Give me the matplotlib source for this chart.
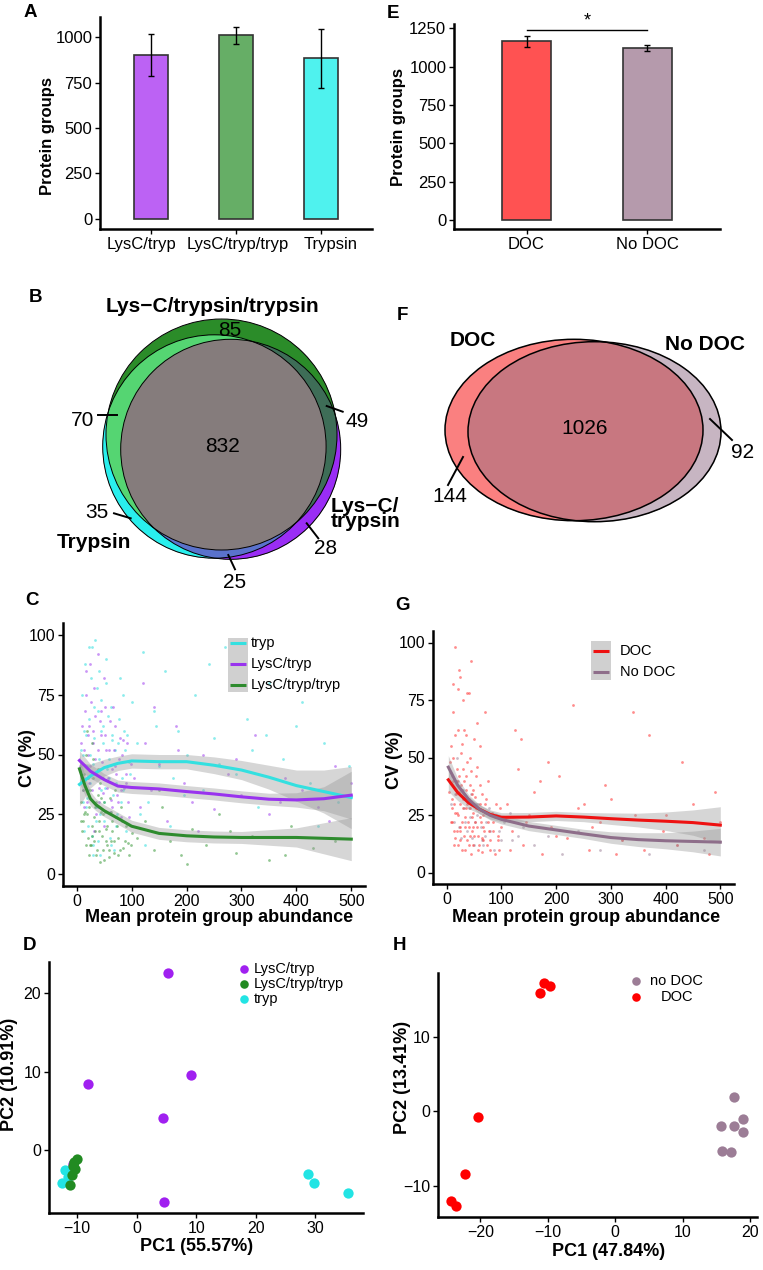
import numpy as np
import matplotlib
matplotlib.use("Agg")
import matplotlib.pyplot as plt
import matplotlib.transforms as mtrans
from matplotlib.colors import to_rgba
from matplotlib.patches import Circle, Ellipse, Rectangle

plt.rcParams['font.family'] = ['Liberation Sans', 'DejaVu Sans']

# ---- data ----
# A: protein groups per digestion
digest = ['LysC/tryp', 'LysC/tryp/tryp', 'Trypsin']
digest_mean = [900, 1010, 883]
digest_err = [116, 47, 161]
digest_col = ['#BC62F4', '#66AE66', '#4FF2EE']

# E: protein groups with / without DOC
doc_groups = ['DOC', 'No DOC']
doc_mean = [1166, 1120]
doc_err = [35, 20]
doc_col = ['#FF5252', '#B59AAC']

# B: 3-way venn counts
venn3_names = ['Lys\u2212C/trypsin/trypsin', 'Lys\u2212C/\ntrypsin', 'Trypsin']
venn3_counts = {'g': 85, 'gc': 70, 'gp': 49, 'c': 35, 'p': 28, 'cp': 25, 'gcp': 832}

# F: 2-way venn counts
venn2_names = ['DOC', 'No DOC']
venn2_counts = {'d': 144, 'dn': 1026, 'n': 92}

# C: CV scatter (estimated sample of points) + smooth fits
c_tryp_x = [8, 12, 15, 18, 20, 22, 25, 27, 30, 32, 35, 37, 40, 42, 45, 48, 50, 53, 56, 60, 63, 66, 70, 74, 78, 82, 86, 90, 95, 100,
            10, 14, 19, 24, 28, 33, 38, 43, 47, 52, 58, 64, 68, 72, 80, 88, 97,
            9, 13, 17, 21, 26, 29, 34, 39, 44, 49, 54, 59, 65, 71, 77, 84, 91, 16, 23, 31, 36, 41, 46, 57, 62, 75, 85, 11, 29, 44,
            110, 120, 130, 140, 150, 160, 170, 185, 200, 215, 230, 250, 270, 290, 310, 330, 350, 375, 400, 425, 450, 475, 495,
            125, 175, 240, 320, 410, 115, 145, 195, 260, 345, 440]
c_tryp_y = [52, 30, 88, 45, 20, 65, 38, 95, 12, 57, 28, 78, 48, 8, 35, 62, 22, 90, 44, 15, 70, 33, 52, 25, 82, 40, 60, 18, 47, 72,
            40, 60, 32, 50, 16, 42, 68, 25, 55, 36, 48, 58, 10, 38, 30, 52, 42,
            75, 18, 58, 35, 82, 46, 98, 14, 73, 30, 80, 40, 56, 20, 65, 35, 58, 28, 95, 70, 22, 85, 40, 66, 12, 55, 75, 50, 8, 60,
            55, 93, 30, 68, 45, 85, 20, 60, 50, 75, 35, 57, 95, 42, 65, 28, 80, 48, 62, 38, 55, 30, 45,
            12, 40, 88, 52, 72, 25, 62, 33, 46, 58, 20]
c_lysc_x = [6, 10, 13, 17, 20, 23, 26, 29, 31, 34, 36, 39, 41, 44, 46, 49, 52, 55, 58, 61, 65, 69, 73, 77, 81, 85, 90, 94, 98,
            11, 16, 21, 27, 33, 38, 43, 48, 54, 62, 70, 78, 87, 96,
            8, 12, 15, 19, 22, 25, 28, 32, 35, 38, 42, 45, 48, 51, 57, 60, 64, 68, 72, 76, 83, 89, 14, 24, 30, 40, 50, 66, 80, 92,
            105, 115, 125, 135, 150, 165, 180, 195, 210, 230, 250, 275, 300, 325, 350, 380, 410, 440, 470, 500,
            140, 220, 290, 370, 460, 120, 185]
c_lysc_y = [45, 62, 28, 85, 50, 38, 72, 55, 18, 66, 42, 92, 30, 58, 47, 20, 70, 36, 52, 26, 44, 62, 33, 48, 24, 56, 38, 30, 46,
            35, 75, 58, 42, 48, 28, 64, 40, 52, 31, 45, 57, 36, 24,
            55, 40, 68, 30, 62, 45, 35, 78, 25, 52, 44, 68, 34, 58, 40, 64, 28, 52, 42, 30, 50, 42, 52, 88, 60, 36, 82, 70, 35, 55,
            40, 28, 55, 35, 46, 22, 62, 38, 30, 50, 27, 42, 33, 58, 25, 40, 35, 28, 45, 38,
            70, 18, 48, 30, 22, 80, 52]
c_lysc2_x = [7, 10, 13, 16, 19, 22, 25, 28, 31, 34, 37, 40, 43, 46, 49, 52, 56, 60, 64, 68, 72, 76, 80, 85, 90, 95, 100,
             12, 18, 24, 30, 36, 42, 48, 54, 62, 70, 82, 94, 15, 27, 39, 58,
             8, 11, 14, 17, 20, 23, 26, 29, 32, 35, 38, 41, 44, 47, 50, 55, 59, 63, 67, 74, 78, 88, 21, 33, 45, 53, 65, 75, 98, 28,
             110, 125, 140, 155, 170, 190, 210, 235, 260, 290, 320, 350, 390, 430, 470, 150, 200, 280, 380]
c_lysc2_y = [30, 18, 42, 12, 25, 8, 35, 20, 14, 28, 10, 22, 38, 16, 6, 26, 12, 32, 18, 9, 24, 15, 28, 11, 20, 8, 17,
             22, 60, 12, 48, 30, 5, 25, 19, 14, 35, 22, 13, 26, 16, 44, 10,
             22, 35, 25, 50, 15, 28, 12, 40, 24, 8, 33, 18, 26, 10, 30, 20, 7, 26, 14, 20, 10, 14, 40, 18, 32, 14, 22, 8, 12, 55,
             15, 22, 10, 28, 14, 8, 19, 12, 25, 9, 16, 6, 20, 11, 14, 35, 4, 18, 8]

fit_x = [5, 25, 50, 75, 100, 150, 200, 250, 300, 350, 400, 450, 500]
fit_tryp = [37.5, 41, 44.5, 46.3, 47.3, 47, 47, 45.5, 43.5, 40.5, 37, 34.5, 32]
se_tryp = [9, 5, 3.5, 3, 3, 3, 3, 3.5, 4, 5, 6.5, 9, 13]
fit_lysc = [47.5, 43, 39.5, 36.8, 36.2, 35.6, 34.5, 33.5, 32.3, 31.3, 31, 31.5, 33]
se_lysc = [4, 3, 2.5, 2.5, 2.5, 2.5, 2.5, 2.5, 2.5, 2.5, 3, 5, 10]
fit_x2 = [5, 15, 25, 35, 50, 75, 100, 150, 200, 250, 300, 400, 500]
fit_lysc2 = [44, 37, 31.5, 29, 26.5, 23.3, 20, 17, 16, 15.5, 15.3, 15.3, 14.6]
se_lysc2 = [6, 4, 3, 2.5, 2.5, 2.5, 2.5, 2.5, 2.5, 2.5, 2.5, 4, 9]

# G: CV scatter DOC / No DOC
g_doc_x = [5, 8, 10, 12, 14, 16, 18, 20, 22, 24, 26, 28, 30, 32, 34, 36, 38, 40, 42, 44, 46, 48, 50, 53, 56, 59, 62, 65, 68, 72, 76, 80, 85, 90, 95, 100,
           6, 9, 11, 13, 15, 17, 19, 21, 23, 25, 27, 29, 31, 33, 35, 37, 39, 41, 43, 45, 47, 49, 52, 55, 58, 61, 64, 67, 70, 74, 78, 83, 88, 93, 98,
           7, 10, 13, 16, 19, 22, 25, 28, 31, 34, 37, 40, 43, 46, 49, 52, 55, 58, 61, 64, 67, 71, 75, 79, 84, 89, 94,
           12, 18, 24, 30, 36, 42, 48, 54, 60, 66, 20, 28, 38,
           15, 25, 30, 40, 45, 55, 20, 35, 60, 70, 12, 50,
           110, 120, 130, 140, 150, 160, 175, 190, 205, 220, 240, 260, 280, 300, 320, 345, 370, 395, 420, 450, 480, 500,
           135, 185, 230, 290, 360, 430, 115, 145, 170, 200, 250, 310, 400, 470, 125, 265, 340, 490]
g_doc_y = [35, 55, 22, 70, 30, 15, 45, 25, 88, 18, 38, 10, 28, 62, 20, 42, 14, 32, 50, 8, 24, 36, 16, 28, 46, 12, 22, 34, 18, 26, 40, 14, 22, 30, 10, 20,
           48, 28, 40, 18, 60, 34, 26, 12, 42, 20, 52, 32, 16, 24, 36, 78, 22, 12, 28, 44, 18, 26, 33, 20, 10, 38, 15, 25, 30, 12, 18, 26, 8, 16, 28,
           22, 32, 12, 26, 18, 35, 14, 22, 40, 10, 30, 20, 16, 34, 12, 22, 28, 16, 24, 9, 20, 32, 22, 10, 18, 24, 14,
           50, 40, 30, 45, 28, 38, 20, 42, 30, 14, 62, 56, 48,
           98, 85, 75, 78, 92, 65, 80, 60, 55, 70, 82, 58,
           30, 18, 45, 12, 25, 35, 8, 20, 42, 15, 28, 10, 22, 32, 14, 25, 60, 18, 12, 30, 8, 22,
           58, 48, 73, 38, 10, 48, 10, 22, 40, 16, 30, 8, 25, 15, 62, 20, 70, 35]
g_nodoc_x = [8, 14, 20, 26, 32, 38, 44, 50, 56, 62, 70, 78, 86, 95, 105, 120, 140, 160, 185, 210, 240, 280, 320, 370, 420, 470,
             18, 30, 42, 54, 66, 90, 130, 10, 16, 22, 28, 34, 40, 46, 52, 58, 64, 72, 80, 100, 115]
g_nodoc_y = [30, 22, 40, 15, 28, 18, 34, 12, 25, 20, 16, 28, 10, 18, 22, 14, 20, 12, 16, 8, 18, 10, 14, 8, 12, 10,
             50, 36, 24, 30, 12, 25, 16, 42, 34, 20, 36, 22, 28, 15, 22, 30, 14, 22, 18, 14, 26]

fit_gx = [3, 20, 40, 60, 80, 100, 150, 200, 250, 300, 350, 400, 450, 500]
fit_doc = [40.3, 34.8, 30.3, 27.5, 25.2, 24, 24.1, 24.6, 24.1, 23.4, 22.8, 22.3, 21.7, 20.6]
se_doc = [5, 3.5, 2.5, 2, 2, 2, 2, 2, 2, 2.5, 3, 4, 5.5, 8]
fit_nodoc = [45.8, 38, 31.8, 27.5, 24.8, 23.1, 20.2, 18.5, 16.8, 15.2, 14.3, 13.8, 13.5, 13.2]
se_nodoc = [5, 3, 2, 2, 2, 2, 2, 2, 2, 2.5, 3, 3.5, 4.5, 6]

# D: PCA digestion
d_lysc_pc1 = [5.2, -8.1, 9.1, 4.5, 4.6, -10.6]
d_lysc_pc2 = [22.6, 8.4, 9.6, 4.1, -6.7, -1.8]
d_lysc2_pc1 = [-10.0, -10.6, -10.4, -10.9, -11.2, -10.5]
d_lysc2_pc2 = [-1.1, -2.1, -2.4, -3.2, -4.5, -1.5]
d_tryp_pc1 = [-12.0, -12.6, 28.8, 29.7, 35.5, -11.5]
d_tryp_pc2 = [-2.6, -4.2, -3.1, -4.2, -5.5, -3.5]

# H: PCA DOC
h_doc_pc1 = [-10.5, -9.7, -11.1, -20.4, -22.3, -24.3, -23.6]
h_doc_pc2 = [17.2, 16.8, 15.8, -0.8, -8.3, -12.0, -12.6]
h_nodoc_pc1 = [17.7, 15.7, 17.7, 19.0, 19.0, 15.9, 17.2]
h_nodoc_pc2 = [1.9, -1.9, -1.9, -1.0, -2.7, -5.3, -5.4]

# ---- layout helpers (pixel based) ----
W, H = 763, 1270
fig = plt.figure(figsize=(W / 100, H / 100), dpi=100)


def box(x0, y0, x1, y1):
    return [x0 / W, 1 - y1 / H, (x1 - x0) / W, (y1 - y0) / H]


def style(ax, size=11.5):
    for s in ['top', 'right']:
        ax.spines[s].set_visible(False)
    for s in ['left', 'bottom']:
        ax.spines[s].set_linewidth(1.8)
    ax.tick_params(direction='out', length=3.5, width=1, labelsize=size, pad=2)


def letter(x, y, s):
    fig.text(x / W, 1 - y / H, s, fontsize=13.5, fontweight='bold', ha='center', va='center')


# ---- A ----
ax = fig.add_axes(box(100, 17, 372, 229))
pos = np.arange(len(digest))
ax.bar(pos, digest_mean, width=0.41, color=digest_col, edgecolor='#333333', linewidth=1.2, zorder=2)
ax.errorbar(pos, digest_mean, yerr=digest_err, fmt='none', ecolor='black', elinewidth=1, capsize=2.5, capthick=1, zorder=3)
ax.set_xlim(-0.6, 2.6)
ax.set_ylim(-55, 1110)
ax.set_yticks([0, 250, 500, 750, 1000])
ax.set_xticks(pos, digest)
style(ax, 12)
# labels sit a little apart in the reference
for lab, dx in zip(ax.get_xticklabels(), [-9.5, 1.5, 10]):
    lab.set_transform(lab.get_transform() + mtrans.ScaledTranslation(dx / 100, 0, fig.dpi_scale_trans))
ax.set_ylabel('Protein groups', fontsize=12, fontweight='bold')
ax.yaxis.set_label_coords(-0.165, 0.44)

# ---- E ----
ax = fig.add_axes(box(454, 24, 720, 229))
pos = np.arange(len(doc_groups))
ax.bar(pos, doc_mean, width=0.41, color=doc_col, edgecolor='#333333', linewidth=1.2, zorder=2)
ax.errorbar(pos, doc_mean, yerr=doc_err, fmt='none', ecolor='black', elinewidth=1, capsize=2.5, capthick=1, zorder=3)
ax.plot([0, 1], [1240, 1240], color='black', lw=1)
ax.text(0.5, 1242, '*', ha='center', va='bottom', fontsize=13)
ax.set_xlim(-0.6, 1.6)
ax.set_ylim(-59, 1278)
ax.set_yticks([0, 250, 500, 750, 1000, 1250])
ax.set_xticks(pos, doc_groups)
style(ax, 12)
ax.set_ylabel('Protein groups', fontsize=12, fontweight='bold')
ax.yaxis.set_label_coords(-0.18, 0.5)

# ---- Venn diagrams (B, F) in pixel coordinates ----
av = fig.add_axes(box(0, 285, W, 590))
step = 0.25

# B
xs = np.arange(95, 350, step)
ys = np.arange(312, 566, step)
X, Y = np.meshgrid(xs, ys)
circ = {'g': (221.5, 434.5, 115.5), 'c': (214.4, 446.5, 111.7), 'p': (230.7, 449.3, 110.0)}
m = {k: (X - v[0]) ** 2 + (Y - v[1]) ** 2 <= v[2] ** 2 for k, v in circ.items()}
img = np.zeros(X.shape + (4,))
region_col = {'g': '#2B8C2A', 'gc': '#55D672', 'gp': '#3E6E58', 'c': '#2AF0EE',
              'p': '#9B2EF5', 'cp': '#5A72CC', 'gcp': '#857C7C'}
for key, col in region_col.items():
    mask = np.ones(X.shape, bool)
    for k in 'gcp':
        mask &= m[k] if k in key else ~m[k]
    img[mask] = to_rgba(col)
av.imshow(img, extent=(xs[0], xs[-1] + step, ys[-1] + step, ys[0]), interpolation='antialiased', zorder=1)
for k, (cx, cy, r) in circ.items():
    av.add_patch(Circle((cx, cy), r, fill=False, ec='black', lw=0.7, zorder=2))

vt = dict(fontsize=15, zorder=4)
av.text(212, 306, venn3_names[0], ha='center', va='center', fontweight='bold', **vt)
av.text(331, 514, venn3_names[1], ha='left', va='center', fontweight='bold', linespacing=0.72, **vt)
av.text(94, 543, venn3_names[2], ha='center', va='center', fontweight='bold', **vt)
av.text(230, 330, str(venn3_counts['g']), ha='center', va='center', **vt)
av.text(222, 447, str(venn3_counts['gcp']), ha='center', va='center', **vt)
av.text(94.5, 420, str(venn3_counts['gc']), ha='right', va='center', **vt)
av.text(345, 421.5, str(venn3_counts['gp']), ha='left', va='center', **vt)
av.text(108, 512, str(venn3_counts['c']), ha='right', va='center', **vt)
av.text(326, 548, str(venn3_counts['p']), ha='center', va='center', **vt)
av.text(235, 582, str(venn3_counts['cp']), ha='center', va='center', **vt)
for (x0, y0, x1, y1) in [(98, 415, 117, 415), (326.7, 406, 342.7, 411.7), (114, 513.3, 130.7, 518.3),
                         (306.7, 523.3, 318.3, 538.3), (228.3, 555, 235, 569.3)]:
    av.plot([x0, x1], [y0, y1], color='black', lw=1.4, zorder=3)

# F
xs = np.arange(440, 726, step)
ys = np.arange(336, 526, step)
X, Y = np.meshgrid(xs, ys)
ell = {'d': (574, 430, 129, 90.7), 'n': (594.5, 431.7, 126.5, 90)}
m = {k: ((X - v[0]) / v[2]) ** 2 + ((Y - v[1]) / v[3]) ** 2 <= 1 for k, v in ell.items()}
img = np.zeros(X.shape + (4,))
img[m['d'] & ~m['n']] = to_rgba('#FA8080')
img[m['d'] & m['n']] = to_rgba('#C97880')
img[~m['d'] & m['n']] = to_rgba('#C8B5C2')
av.imshow(img, extent=(xs[0], xs[-1] + step, ys[-1] + step, ys[0]), interpolation='antialiased', zorder=1)
for k, (cx, cy, a, b) in ell.items():
    av.add_patch(Ellipse((cx, cy), 2 * a, 2 * b, fill=False, ec='black', lw=1.1, zorder=2))
av.text(473, 341, venn2_names[0], ha='center', va='center', fontweight='bold', **vt)
av.text(705, 345, venn2_names[1], ha='center', va='center', fontweight='bold', **vt)
av.text(585, 428, str(venn2_counts['dn']), ha='center', va='center', **vt)
av.text(450, 497, str(venn2_counts['d']), ha='center', va='center', **vt)
av.text(743, 453, str(venn2_counts['n']), ha='center', va='center', **vt)
for (x0, y0, x1, y1) in [(463, 457, 448, 485), (710, 419, 732, 440)]:
    av.plot([x0, x1], [y0, y1], color='black', lw=1.4, zorder=3)

av.set_xlim(0, W)
av.set_ylim(590, 285)
av.axis('off')


def line_legend(ax, x0, x1, ytop, ybot, items, xtext):
    ax.add_patch(Rectangle((x0, ybot), x1 - x0, ytop - ybot, transform=ax.transAxes,
                           color='#D0D0D0', lw=0, clip_on=False, zorder=5))
    for label, col, y in items:
        ax.plot([x0 + 0.006, x1 - 0.006], [y, y], transform=ax.transAxes, color=col, lw=2.2,
                clip_on=False, zorder=6, solid_capstyle='butt')
        ax.text(xtext, y, label, transform=ax.transAxes, ha='left', va='center', fontsize=10.5, zorder=6)


def smooth(ax, x, y, se, col):
    x = np.array(x); y = np.array(y); se = np.array(se)
    ax.fill_between(x, y - se, y + se, color='#999999', alpha=0.4, lw=0, zorder=3)
    ax.plot(x, y, color=col, lw=2.2, zorder=4)


# ---- C ----
ax = fig.add_axes(box(63, 623, 365, 886))
ax.scatter(c_tryp_x, c_tryp_y, s=4, c='#40E0E0', alpha=0.6, linewidths=0, zorder=2)
ax.scatter(c_lysc_x, c_lysc_y, s=4, c='#A040F0', alpha=0.55, linewidths=0, zorder=2)
ax.scatter(c_lysc2_x, c_lysc2_y, s=4, c='#3A9A3A', alpha=0.55, linewidths=0, zorder=2)
smooth(ax, fit_x, fit_tryp, se_tryp, '#33E0E0')
smooth(ax, fit_x, fit_lysc, se_lysc, '#9933EE')
smooth(ax, fit_x2, fit_lysc2, se_lysc2, '#2E8B2E')
ax.set_xlim(-25, 525)
ax.set_ylim(-5, 105)
ax.set_xticks([0, 100, 200, 300, 400, 500])
ax.set_yticks([0, 25, 50, 75, 100])
style(ax)
ax.set_xlabel('Mean protein group abundance', fontsize=13, fontweight='bold')
ax.set_ylabel('CV (%)', fontsize=13, fontweight='bold')
ax.xaxis.set_label_coords(0.517, -0.088)
ax.yaxis.set_label_coords(-0.09, 0.485)
line_legend(ax, 0.546, 0.613, 0.943, 0.738,
            [('tryp', '#33E0E0', 0.924), ('LysC/tryp', '#9933EE', 0.844), ('LysC/tryp/tryp', '#2E8B2E', 0.764)], 0.622)

# ---- G ----
ax = fig.add_axes(box(433, 631, 734, 884))
ax.scatter(g_nodoc_x, g_nodoc_y, s=4, c='#8B6B86', alpha=0.45, linewidths=0, zorder=2)
ax.scatter(g_doc_x, g_doc_y, s=4, c='#FF3030', alpha=0.55, linewidths=0, zorder=2)
smooth(ax, fit_gx, fit_doc, se_doc, '#EE1111')
smooth(ax, fit_gx, fit_nodoc, se_nodoc, '#8E6E8A')
ax.set_xlim(-25, 525)
ax.set_ylim(-5, 105)
ax.set_xticks([0, 100, 200, 300, 400, 500])
ax.set_yticks([0, 25, 50, 75, 100])
style(ax)
ax.set_xlabel('Mean protein group abundance', fontsize=13, fontweight='bold')
ax.set_ylabel('CV (%)', fontsize=13, fontweight='bold')
ax.xaxis.set_label_coords(0.51, -0.1)
ax.yaxis.set_label_coords(-0.1, 0.49)
line_legend(ax, 0.525, 0.591, 0.960, 0.806,
            [('DOC', '#EE1111', 0.921), ('No DOC', '#8E6E8A', 0.838)], 0.621)


def dot_legend(ax, items, xdot, xtext, ha='left'):
    for label, col, y in items:
        ax.scatter([xdot], [y], s=38, c=col, transform=ax.transAxes, clip_on=False, linewidths=0, zorder=5)
        ax.text(xtext, y, label, transform=ax.transAxes, ha=ha, va='center', fontsize=10.5, zorder=5)


# ---- D ----
ax = fig.add_axes(box(49, 962, 363, 1213))
ax.scatter(d_tryp_pc1, d_tryp_pc2, s=55, c='#22E4E4', linewidths=0, zorder=2)
ax.scatter(d_lysc_pc1, d_lysc_pc2, s=55, c='#A020F0', linewidths=0, zorder=2)
ax.scatter(d_lysc2_pc1, d_lysc2_pc2, s=55, c='#228B22', linewidths=0, zorder=2)
ax.set_xlim(-14.7, 38.0)
ax.set_ylim(-8.05, 24.0)
ax.set_xticks([-10, 0, 10, 20, 30])
ax.set_yticks([0, 10, 20])
style(ax)
ax.set_xlabel('PC1 (55.57%)', fontsize=13, fontweight='bold')
ax.set_ylabel('PC2 (10.91%)', fontsize=13, fontweight='bold')
ax.xaxis.set_label_coords(0.47, -0.1)
ax.yaxis.set_label_coords(-0.1, 0.554)
dot_legend(ax, [('LysC/tryp', '#A020F0', 0.972), ('LysC/tryp/tryp', '#228B22', 0.912), ('tryp', '#22E4E4', 0.853)],
           0.621, 0.653)

# ---- H ----
ax = fig.add_axes(box(438, 973, 757, 1217))
ax.scatter(h_nodoc_pc1, h_nodoc_pc2, s=55, c='#9C7D96', linewidths=0, zorder=2)
ax.scatter(h_doc_pc1, h_doc_pc2, s=55, c='#FF0000', linewidths=0, zorder=2)
ax.set_xlim(-26.3, 21.05)
ax.set_ylim(-14.1, 18.5)
ax.set_xticks([-20, -10, 0, 10, 20])
ax.set_yticks([-10, 0, 10])
style(ax)
ax.set_xlabel('PC1 (47.84%)', fontsize=13, fontweight='bold')
ax.set_ylabel('PC2 (13.41%)', fontsize=13, fontweight='bold')
ax.xaxis.set_label_coords(0.536, -0.105)
ax.yaxis.set_label_coords(-0.085, 0.572)
dot_legend(ax, [('no DOC', '#9C7D96', 0.967), ('DOC', '#FF0000', 0.903)], 0.62, 0.749, ha='center')

# ---- panel letters ----
for x, y, s in [(30.5, 12.5, 'A'), (393, 13, 'E'), (36, 298, 'B'), (402, 316, 'F'),
                (32, 600, 'C'), (403, 605, 'G'), (30, 945, 'D'), (400, 945, 'H')]:
    letter(x, y, s)

fig.savefig('out.png', dpi=100)
